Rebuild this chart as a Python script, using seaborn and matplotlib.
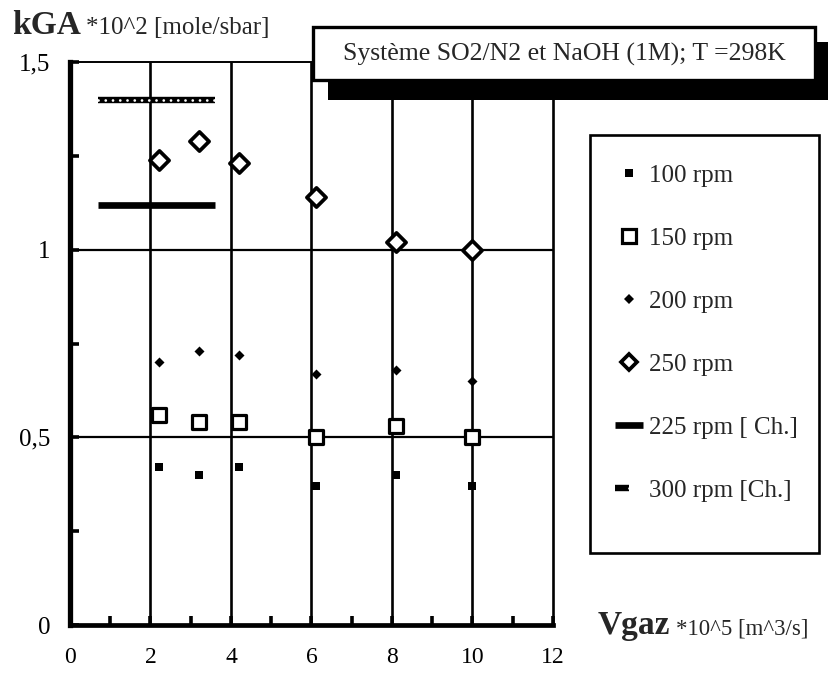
import matplotlib
matplotlib.use("Agg")
import matplotlib.pyplot as plt
import pandas as pd
import seaborn as sns
from matplotlib.lines import Line2D
from matplotlib.patches import Rectangle
from matplotlib.legend_handler import HandlerTuple
from matplotlib.ticker import MultipleLocator

# Gas flow (Vgaz * 10^5, m^3/s) and kGA * 10^2 (mole/s.bar) for each stirring speed
vgaz = [2.2, 3.2, 4.2, 6.1, 8.1, 10.0]
kga_100 = [0.42, 0.40, 0.42, 0.37, 0.40, 0.37]
kga_150 = [0.56, 0.54, 0.54, 0.50, 0.53, 0.50]
kga_200 = [0.70, 0.73, 0.72, 0.67, 0.68, 0.65]
kga_250 = [1.24, 1.29, 1.23, 1.14, 1.02, 1.00]

# Literature values [Ch.], drawn as horizontal segments
ch_x = [0.7, 3.6]
kga_225_ch = [1.12, 1.12]
kga_300_ch = [1.40, 1.40]

x_ticks = [0, 2, 4, 6, 8, 10, 12]
y_ticks = [0, 0.5, 1, 1.5]
y_tick_labels = ["0", "0,5", "1", "1,5"]
series_labels = ["100 rpm", "150 rpm", "200 rpm", "250 rpm",
                 "225 rpm [ Ch.]", "300 rpm [Ch.]"]
title = "Système SO2/N2 et NaOH (1M); T =298K"

sns.set_theme(style="white")
plt.rcParams["font.family"] = ["Liberation Serif", "DejaVu Serif"]

W, H = 829, 678
fig = plt.figure(figsize=(W / 100, H / 100), dpi=100)


def fx(px):
    return px / W


def fy(py):
    return 1 - py / H


ax = fig.add_axes([fx(70), fy(625), fx(553) - fx(70), fy(62) - fy(625)])
ax.set_xlim(0, 12)
ax.set_ylim(0, 1.5)
ax.set_facecolor("white")

# grid
ax.vlines([2, 4, 6, 8, 10], 0, 1.5, color="black", lw=1.9, zorder=1)
ax.hlines([0.5, 1.0], 0, 12, color="black", lw=1.6, zorder=1)

# literature segments; the 300 rpm one is a chain of small rings
CHAIN_DOTS = (0, (0.01, 2.6))
seg = pd.DataFrame({"x": ch_x, "k225": kga_225_ch, "k300": kga_300_ch})
sns.lineplot(data=seg, x="x", y="k225", color="black", lw=4.8,
             solid_capstyle="butt", ax=ax, zorder=3)
sns.lineplot(data=seg, x="x", y="k300", color="black", lw=4.6,
             solid_capstyle="butt", ax=ax, zorder=3)
ax.plot(ch_x, kga_300_ch, color="white", lw=2.0, ls=CHAIN_DOTS,
        dash_capstyle="round", zorder=4)

# measured points
df = pd.DataFrame({"vgaz": vgaz, "k100": kga_100, "k150": kga_150,
                   "k200": kga_200, "k250": kga_250})
sns.scatterplot(data=df, x="vgaz", y="k100", marker="s", s=40,
                color="black", edgecolor="black", linewidth=0, ax=ax, zorder=5)
sns.scatterplot(data=df, x="vgaz", y="k150", marker="s", s=90,
                facecolor="white", edgecolor="black", linewidth=2.3, ax=ax, zorder=5)
sns.scatterplot(data=df, x="vgaz", y="k200", marker="D", s=26,
                color="black", edgecolor="black", linewidth=0, ax=ax, zorder=5)
sns.scatterplot(data=df, x="vgaz", y="k250", marker="D", s=95,
                facecolor="white", edgecolor="black", linewidth=2.7, ax=ax, zorder=5)

ax.set_xlabel("")
ax.set_ylabel("")

# frame
for side, lw in {"left": 3.8, "bottom": 3.4, "top": 1.4, "right": 1.9}.items():
    ax.spines[side].set_visible(True)
    ax.spines[side].set_color("black")
    ax.spines[side].set_linewidth(lw)

ax.set_xticks(x_ticks)
ax.set_xticklabels([str(t) for t in x_ticks])
ax.xaxis.set_minor_locator(MultipleLocator(1))
ax.set_yticks(y_ticks)
ax.set_yticklabels(y_tick_labels)
ax.yaxis.set_minor_locator(MultipleLocator(0.25))
ax.tick_params(axis="both", which="both", direction="in", length=6.5, width=2.6,
               color="black", bottom=True, left=True, top=False, right=False)
ax.tick_params(axis="x", which="major", labelsize=17, pad=16, labelcolor="black")
ax.tick_params(axis="y", which="major", labelsize=18, pad=14, labelcolor="black")

# axis titles
fig.text(fx(12), fy(34), "kGA", fontsize=24, fontweight="bold",
         va="baseline", ha="left")
fig.text(fx(86), fy(34), "*10^2 [mole/sbar]", fontsize=18,
         va="baseline", ha="left")
fig.text(fx(598), fy(634), "Vgaz", fontsize=24, fontweight="bold",
         va="baseline", ha="left")
fig.text(fx(676), fy(634), "*10^5 [m^3/s]", fontsize=16.5,
         va="baseline", ha="left")

# title box with drop shadow
fig.add_artist(Rectangle((fx(328), fy(100)), fx(520), fy(42) - fy(100),
                         transform=fig.transFigure, facecolor="black",
                         edgecolor="none", zorder=5))
fig.add_artist(Rectangle((fx(313), fy(80)), fx(815) - fx(313), fy(27) - fy(80),
                         transform=fig.transFigure, facecolor="white",
                         edgecolor="black", lw=2.4, zorder=6))
fig.text(fx(564), fy(54), title, fontsize=18.5, ha="center", va="center", zorder=7)

# legend
fig.add_artist(Rectangle((fx(590), fy(553)), fx(819) - fx(590), fy(135) - fy(553),
                         transform=fig.transFigure, facecolor="white",
                         edgecolor="black", lw=1.9, zorder=5))
handles = [
    Line2D([], [], ls="none", marker="s", markersize=6.2, color="black", mew=0),
    Line2D([], [], ls="none", marker="s", markersize=9.4, mfc="white",
           mec="black", mew=2.3),
    Line2D([], [], ls="none", marker="D", markersize=4.6, color="black", mew=0),
    Line2D([], [], ls="none", marker="D", markersize=8.6, mfc="white",
           mec="black", mew=2.7),
    Line2D([], [], color="black", lw=4.8, solid_capstyle="butt"),
    (Line2D([], [], color="black", lw=4.6, solid_capstyle="butt"),
     Line2D([], [], color="white", lw=2.0, ls=CHAIN_DOTS,
            dash_capstyle="round")),
]
leg = fig.legend(handles, series_labels, loc="upper left",
                 bbox_to_anchor=(fx(603), fy(152)), frameon=False,
                 fontsize=18, labelspacing=1.62, handlelength=1.1,
                 handletextpad=0.25, borderpad=0,
                 handler_map={tuple: HandlerTuple(ndivide=None, pad=0)})
leg.set_zorder(8)

fig.savefig("out.png", dpi=100, facecolor="white")
